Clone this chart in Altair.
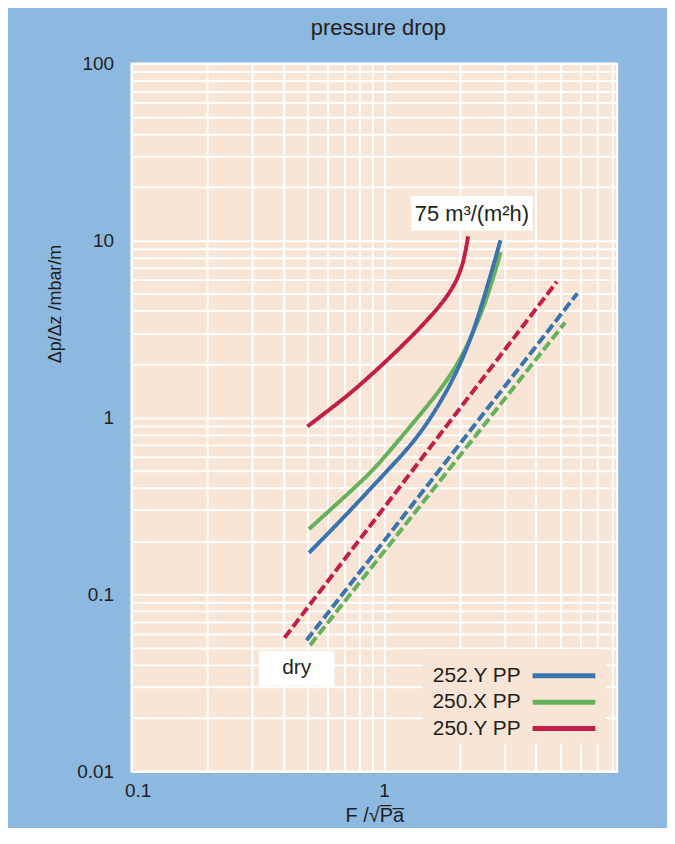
import altair as alt
import pandas as pd

# ---------------- data ----------------
series = ["252.Y PP", "250.X PP", "250.Y PP"]
colors = ["#3a74b0", "#66b25c", "#c21e47"]

# solid curves (liquid load 75 m3/(m2h))
blue_f = [0.505, 0.690, 0.919, 1.188, 1.403, 1.707, 2.015, 2.276, 2.567, 2.896]
blue_dp = [0.172, 0.270, 0.420, 0.619, 0.823, 1.263, 2.013, 3.127, 5.458, 10.03]

green_f = [0.505, 0.690, 0.891, 1.068, 1.301, 1.583, 1.869, 2.141, 2.409, 2.645, 2.901]
green_dp = [0.234, 0.350, 0.490, 0.661, 0.925, 1.296, 1.791, 2.542, 3.749, 5.458, 8.59]

red_f = [0.498, 0.602, 0.742, 0.865, 1.006, 1.321, 1.631, 1.819, 1.974, 2.084, 2.155]
red_dp = [0.890, 1.095, 1.382, 1.679, 2.039, 2.969, 4.105, 5.05, 6.21, 7.95, 10.57]

# dashed lines (dry packing)
blue_dry_f = [0.494, 5.84]
blue_dry_dp = [0.0551, 5.03]
green_dry_f = [0.51, 5.22]
green_dry_dp = [0.0517, 3.44]
red_dry_f = [0.404, 4.84]
red_dry_dp = [0.0569, 5.85]

x_grid = [0.1, 0.2, 0.3, 0.4, 0.5, 0.6, 0.7, 0.8, 0.9, 1, 2, 3, 4, 5, 6, 7, 8]
y_grid = [0.01, 0.02, 0.03, 0.04, 0.05, 0.06, 0.07, 0.08, 0.09,
          0.1, 0.2, 0.3, 0.4, 0.5, 0.6, 0.7, 0.8, 0.9,
          1, 2, 3, 4, 5, 6, 7, 8, 9,
          10, 20, 30, 40, 50, 60, 70, 80, 90, 100]

# ---------------- table ----------------
rows = []
def add(name, cond, fs, dps):
    for i, (f, d) in enumerate(zip(fs, dps)):
        rows.append({"series": name, "cond": cond, "key": name + cond,
                     "i": i, "F": f, "dp": d})

add("250.X PP", "75", green_f, green_dp)
add("252.Y PP", "75", blue_f, blue_dp)
add("250.Y PP", "75", red_f, red_dp)
add("250.X PP", "dry", green_dry_f, green_dry_dp)
add("252.Y PP", "dry", blue_dry_f, blue_dry_dp)
add("250.Y PP", "dry", red_dry_f, red_dry_dp)
df = pd.DataFrame(rows)

FONT = "Liberation Sans"
TXT = "#231f20"
PEACH = "#f8e5d5"
BG = "#8db8df"

lines = alt.Chart(df).mark_line(strokeWidth=4, interpolate="basis", clip=True).encode(
    x=alt.X("F:Q",
            scale=alt.Scale(type="log", domain=[0.1, 8.4], nice=False),
            axis=alt.Axis(values=x_grid, format="~g",
                          labelExpr="(datum.value == 0.1 || datum.value == 1) ? datum.label : ''",
                          labelFlush=True, labelFlushOffset=7,
                          title="F /\u221aP\u0305a\u0305", titleFontSize=20, titlePadding=5,
                          labelFontSize=19, labelPadding=10)),
    y=alt.Y("dp:Q",
            scale=alt.Scale(type="log", domain=[0.01, 100], nice=False),
            axis=alt.Axis(values=y_grid, format="~g",
                          labelExpr="(datum.value == 0.01 || datum.value == 0.1 || datum.value == 1 || datum.value == 10 || datum.value == 100) ? datum.label : ''",
                          title="\u0394p/\u0394z /mbar/m", titleFontSize=18,
                          titleX=-67, titleY=241, titleAlign="center",
                          labelFontSize=19, labelPadding=18)),
    color=alt.Color("series:N", scale=alt.Scale(domain=series, range=colors), legend=None),
    strokeDash=alt.StrokeDash("cond:N", scale=alt.Scale(domain=["75", "dry"], range=[[1, 0], [10, 4]]), legend=None),
    detail="key:N",
    order="i:Q",
)

one = alt.Data(values=[{}])

# annotation boxes
box75 = alt.Chart(one).mark_rect(fill="white").encode(
    x=alt.value(281), x2=alt.value(403), y=alt.value(133), y2=alt.value(168))
txt75 = alt.Chart(one).mark_text(text="75 m\u00b3/(m\u00b2h)", fontSize=22, font=FONT, color=TXT,
                                 align="center", baseline="middle").encode(
    x=alt.value(342), y=alt.value(151))
boxdry = alt.Chart(one).mark_rect(fill="white").encode(
    x=alt.value(128), x2=alt.value(204), y=alt.value(590), y2=alt.value(625))
txtdry = alt.Chart(one).mark_text(text="dry", fontSize=21, font=FONT, color=TXT,
                                  align="center", baseline="middle").encode(
    x=alt.value(166), y=alt.value(607))

# legend
legbox = alt.Chart(one).mark_rect(fill=PEACH).encode(
    x=alt.value(293), x2=alt.value(476), y=alt.value(588), y2=alt.value(683))
leg_layers = [legbox]
for k, (name, col) in enumerate(zip(series, colors)):
    yy = 615 + k * 26.5
    leg_layers.append(alt.Chart(one).mark_rule(color=col, strokeWidth=5).encode(
        x=alt.value(403), x2=alt.value(466), y=alt.value(yy)))
    leg_layers.append(alt.Chart(one).mark_text(text=name, fontSize=21, font=FONT, color=TXT,
                                               align="right", baseline="middle").encode(
        x=alt.value(391), y=alt.value(yy)))

chart = alt.layer(lines, box75, txt75, boxdry, txtdry, *leg_layers).properties(
    width=488, height=711,
    title=alt.TitleParams("pressure drop", fontSize=22, font=FONT, color=TXT,
                          fontWeight="normal", anchor="middle", offset=15, dx=4),
    autosize=alt.AutoSizeParams(type="none"),
    padding={"left": 124, "top": 54, "right": 50, "bottom": 55},
    background=BG,
).configure_view(
    fill=PEACH, stroke="white", strokeWidth=2
).configure_axis(
    grid=True, gridColor="white", gridWidth=2, gridOpacity=1,
    domain=False, ticks=False,
    labelFont=FONT, titleFont=FONT, labelColor=TXT, titleColor=TXT,
    titleFontWeight="normal",
)

chart.save("out.html", embed_options={"renderer": "svg", "actions": False})
